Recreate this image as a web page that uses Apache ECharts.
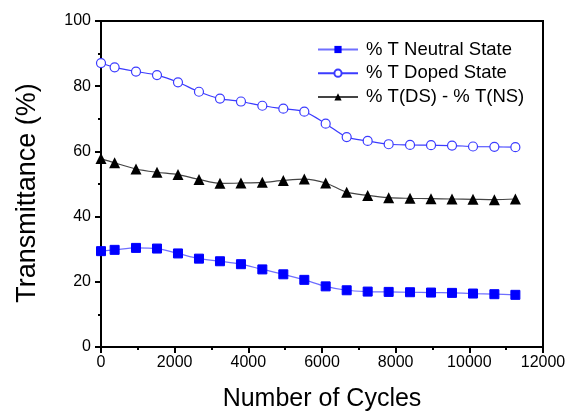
<!DOCTYPE html>
<html><head><meta charset="utf-8">
<script src="https://cdn.jsdelivr.net/npm/echarts@6/dist/echarts.min.js"></script>
<style>html,body{margin:0;padding:0;background:#fff}#c{width:566px;height:412px}</style>
</head><body><div id="c"></div>
<script>
const cycles = [0, 370, 950, 1520, 2090, 2660, 3230, 3800, 4380, 4950, 5520, 6100, 6670, 7240, 7810, 8390, 8960, 9530, 10100, 10680, 11250];
const neutral = [29.4, 29.8, 30.4, 30.2, 28.7, 27.1, 26.3, 25.4, 23.8, 22.3, 20.6, 18.6, 17.4, 17.0, 16.9, 16.8, 16.7, 16.6, 16.4, 16.2, 16.0];
const doped = [87.1, 85.8, 84.5, 83.4, 81.2, 78.3, 76.2, 75.3, 74.0, 73.1, 72.2, 68.5, 64.4, 63.2, 62.2, 62.0, 61.9, 61.8, 61.5, 61.4, 61.3];
const diff = [57.8, 56.5, 54.6, 53.6, 52.9, 51.4, 50.2, 50.3, 50.5, 51.1, 51.5, 50.3, 47.5, 46.5, 45.8, 45.6, 45.5, 45.4, 45.3, 45.2, 45.4];
const seriesNames = ['% T Neutral State', '% T Doped State', '% T(DS) - % T(NS)'];

const pair = (ys) => cycles.map((x, i) => [x, ys[i]]);
const font = 'Liberation Sans, Arial, sans-serif';
const chart = echarts.init(document.getElementById('c'));
const axisCommon = {
  axisLine: { lineStyle: { color: '#000', width: 2 } },
  axisTick: { inside: false, length: 6, lineStyle: { color: '#000', width: 2 } },
  minorTick: { show: true, splitNumber: 2, length: 3, lineStyle: { color: '#000', width: 2 } },
  splitLine: { show: false }
};
chart.setOption({
  animation: false,
  grid: { left: 101, right: 23, top: 21, bottom: 65, show: true, borderColor: '#000', borderWidth: 2,
          containLabel: false, outerBoundsMode: 'none' },
  legend: {
    orient: 'vertical', left: 317, top: 40, padding: 0, itemGap: 4.7, itemWidth: 40, itemHeight: 9,
    textStyle: { fontFamily: font, fontSize: 18.5, color: '#000', padding: [0, 0, 0, 3] },
    data: seriesNames
  },
  xAxis: Object.assign({
    type: 'value', min: 0, max: 12000, interval: 2000,
    name: 'Number of Cycles', nameLocation: 'middle', nameGap: 40,
    nameTextStyle: { fontFamily: font, fontSize: 25, color: '#000' },
    axisLabel: { fontFamily: font, fontSize: 16, color: '#000', margin: 8, formatter: (v) => String(v) }
  }, axisCommon),
  yAxis: Object.assign({
    type: 'value', min: 0, max: 100, interval: 20,
    name: 'Transmittance (%)', nameLocation: 'middle', nameGap: 60,
    nameTextStyle: { fontFamily: font, fontSize: 27, color: '#000', padding: [0, 18, 0, 0] },
    axisLabel: { fontFamily: font, fontSize: 16, color: '#000', margin: 10 }
  }, axisCommon),
  series: [
    { name: seriesNames[0], type: 'line', data: pair(neutral), smooth: 0.3,
      symbol: 'rect', symbolSize: 9,
      itemStyle: { color: '#0000ff', borderColor: '#0000ff' },
      lineStyle: { color: '#6f6fff', width: 1.2 } },
    { name: seriesNames[1], type: 'line', data: pair(doped), smooth: 0.3,
      symbol: 'circle', symbolSize: 9,
      itemStyle: { color: '#ffffff', borderColor: '#3b3bff', borderWidth: 1.2 },
      lineStyle: { color: '#3b3bff', width: 1.2 } },
    { name: seriesNames[2], type: 'line', data: pair(diff), smooth: 0.3,
      symbol: 'triangle', symbolSize: 11,
      itemStyle: { color: '#000000' },
      lineStyle: { color: '#444444', width: 1.2 } }
  ]
});
</script></body></html>
